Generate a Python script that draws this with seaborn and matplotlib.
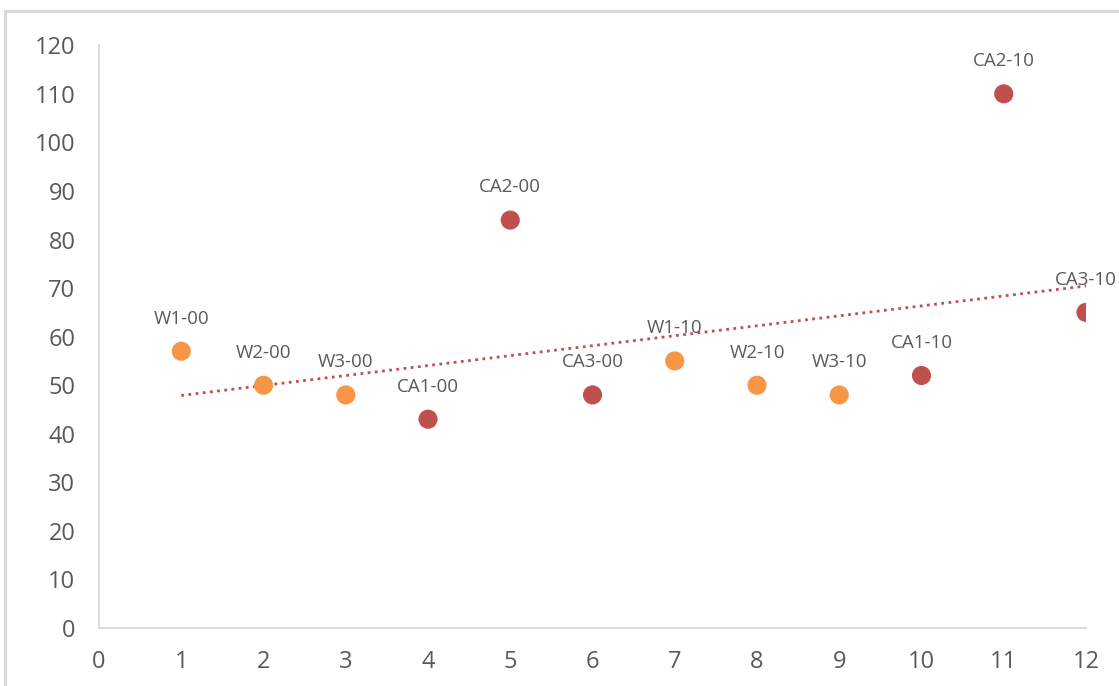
import matplotlib
matplotlib.use("Agg")
import matplotlib.pyplot as plt
import seaborn as sns
import pandas as pd
from matplotlib.patches import Rectangle

# Sample labels, positions and measured values
labels = ["W1-00", "W2-00", "W3-00", "CA1-00", "CA2-00", "CA3-00",
          "W1-10", "W2-10", "W3-10", "CA1-10", "CA2-10", "CA3-10"]
x_pos = [1, 2, 3, 4, 5, 6, 7, 8, 9, 10, 11, 12]
values = [57, 50, 48, 43, 84, 48, 55, 50, 48, 52, 110, 65]
groups = ["W", "W", "W", "CA", "CA", "CA", "W", "W", "W", "CA", "CA", "CA"]

x_ticks = list(range(0, 13))
y_ticks = list(range(0, 121, 10))

df = pd.DataFrame({"label": labels, "x": x_pos, "y": values, "group": groups})

sns.set_style("white")
plt.rcParams["font.family"] = ["Open Sans", "DejaVu Sans"]

fig = plt.figure(figsize=(11.19, 6.86), dpi=100)
ax = fig.add_axes([0.0885, 0.0845, 0.882, 0.8495])

# Chart-area frame
fig.patches.append(Rectangle((0.0045, -0.05), 1.2, 1.034, transform=fig.transFigure,
                             fill=False, edgecolor="#D9D9D9", linewidth=2.2, zorder=0))

palette = {"W": "#F79646", "CA": "#C0504D"}

# Linear trend over all samples
sns.regplot(data=df, x="x", y="y", ax=ax, scatter=False, ci=None, truncate=True,
            line_kws={"color": "#C0504D", "linestyle": (0, (1, 1.6)), "linewidth": 2.0})

sns.scatterplot(data=df, x="x", y="y", hue="group", palette=palette, ax=ax,
                s=190, linewidth=0, legend=False, zorder=3)

for lab, xv, yv in zip(labels, x_pos, values):
    ax.annotate(lab, (xv, yv), xytext=(0, 17), textcoords="offset points",
                ha="center", va="bottom", fontsize=13.5, color="#595959",
                annotation_clip=False)

ax.set_xlim(0, 12)
ax.set_ylim(0, 120)
ax.set_xticks(x_ticks)
ax.set_yticks(y_ticks)
ax.set_xlabel("")
ax.set_ylabel("")

for side in ["top", "right"]:
    ax.spines[side].set_visible(False)
for side in ["left", "bottom"]:
    ax.spines[side].set_color("#D9D9D9")
    ax.spines[side].set_linewidth(1.3)

ax.tick_params(axis="both", which="major", direction="out", length=6, width=1.2,
               color="#D9D9D9", labelcolor="#595959", labelsize=17)
ax.tick_params(axis="x", pad=10)
ax.tick_params(axis="y", pad=11)
ax.grid(False)

fig.savefig("out.png", dpi=100)
